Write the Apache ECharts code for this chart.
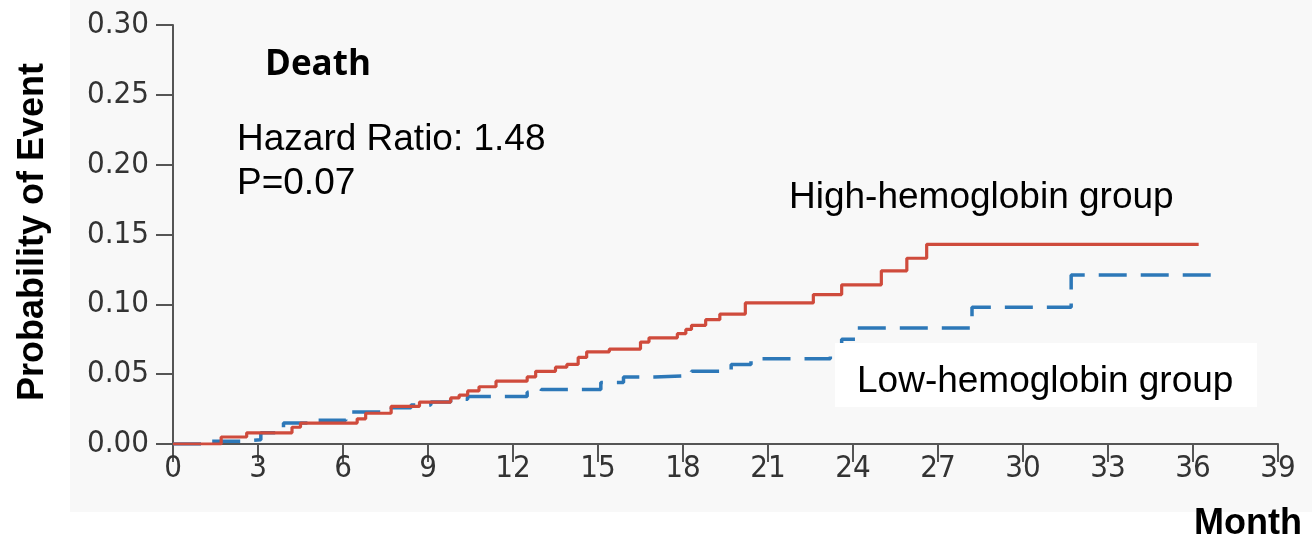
<!DOCTYPE html>
<html>
<head>
<meta charset="utf-8">
<script src="https://cdn.jsdelivr.net/npm/echarts@6/dist/echarts.min.js"></script>
<style>html,body{margin:0;padding:0;background:#fff}#c{width:1312px;height:542px}</style>
</head>
<body>
<div id="c"></div>
<script>
// months, cumulative probability of event (Kaplan-Meier style steps)
const highMonths = [0, 1.7, 2.6, 4.2, 4.5, 6.5, 6.8, 7.7, 8.7, 9.8, 10.1, 10.4, 10.8, 11.4, 12.5, 12.8, 13.5, 13.9, 14.3, 14.6, 15.4, 16.5, 16.8, 17.8, 18.1, 18.3, 18.8, 19.3, 20.2, 22.6, 23.6, 25.0, 25.9, 26.6, 36.2];
const highValues = [0, 0.005, 0.008, 0.012, 0.015, 0.018, 0.022, 0.027, 0.030, 0.033, 0.035, 0.038, 0.041, 0.045, 0.048, 0.052, 0.055, 0.057, 0.062, 0.066, 0.068, 0.073, 0.076, 0.079, 0.082, 0.085, 0.089, 0.093, 0.101, 0.107, 0.114, 0.124, 0.133, 0.143, 0.143];
const lowMonths = [0, 1.3, 2.4, 3.1, 3.9, 5.0, 6.1, 7.7, 8.4, 9.1, 9.8, 10.4, 12.5, 13.0, 15.1, 15.9, 17.0, 18.3, 19.7, 20.4, 23.2, 23.6, 24.1, 28.2, 31.7, 36.8];
const lowValues = [0, 0.002, 0.003, 0.008, 0.015, 0.017, 0.023, 0.026, 0.028, 0.030, 0.032, 0.034, 0.037, 0.039, 0.044, 0.048, 0.049, 0.052, 0.057, 0.061, 0.067, 0.075, 0.083, 0.098, 0.121, 0.121];
const xTicks = [0, 3, 6, 9, 12, 15, 18, 21, 24, 27, 30, 33, 36, 39];
const yTicks = [0, 0.05, 0.10, 0.15, 0.20, 0.25, 0.30];

const chart = echarts.init(document.getElementById('c'), null, {renderer: 'canvas'});
const tickFont = {fontFamily: 'DejaVu Sans Condensed', fontSize: 31, color: '#333'};
chart.setOption({
  animation: false,
  backgroundColor: '#ffffff',
  grid: {left: 173, right: 34, top: 25, bottom: 98, containLabel: false},
  xAxis: {
    type: 'value', min: xTicks[0], max: xTicks[xTicks.length - 1], interval: 3,
    axisLine: {lineStyle: {color: '#555', width: 2}},
    axisTick: {length: 18, lineStyle: {color: '#555', width: 2}},
    axisLabel: Object.assign({margin: 9}, tickFont),
    splitLine: {show: false}
  },
  yAxis: {
    type: 'value', min: yTicks[0], max: yTicks[yTicks.length - 1], interval: 0.05,
    axisLine: {show: true, lineStyle: {color: '#555', width: 2}},
    axisTick: {show: true, length: 17, lineStyle: {color: '#555', width: 2}},
    axisLabel: Object.assign({margin: 24, formatter: v => v.toFixed(2)}, tickFont),
    splitLine: {show: false}
  },
  graphic: [
    {type: 'rect', z: -10, silent: true, shape: {x: 70, y: 0, width: 1242, height: 512}, style: {fill: '#f8f8f8'}},
    {type: 'rect', z: 100, silent: true, shape: {x: 835, y: 343, width: 422, height: 64}, style: {fill: '#ffffff'}},
    {type: 'text', z: 101, left: 265, top: 48, style: {text: 'Death', font: 'bold 35px "Open Sans"', fill: '#000'}},
    {type: 'text', z: 101, left: 237, top: 121, style: {text: 'Hazard Ratio: 1.48', font: '37px "Liberation Sans"', fill: '#000'}},
    {type: 'text', z: 101, left: 237, top: 165, style: {text: 'P=0.07', font: '37px "Liberation Sans"', fill: '#000'}},
    {type: 'text', z: 101, left: 789, top: 179, style: {text: 'High-hemoglobin group', font: '37px "Liberation Sans"', fill: '#000'}},
    {type: 'text', z: 101, left: 857, top: 363, style: {text: 'Low-hemoglobin group', font: '37px "Liberation Sans"', fill: '#000'}},
    {type: 'text', z: 101, left: 1194, top: 506, style: {text: 'Month', font: 'bold 36px "Liberation Sans"', fill: '#000'}},
    {type: 'text', z: 101, x: 33, y: 232, rotation: Math.PI / 2, style: {text: 'Probability of Event', font: 'bold 36px "Liberation Sans"', fill: '#000', textAlign: 'center', textVerticalAlign: 'middle'}}
  ],
  series: [
    {
      name: 'Low-hemoglobin group', type: 'line', step: 'end', symbol: 'none', z: 3,
      data: lowMonths.map((m, i) => [m, lowValues[i]]),
      lineStyle: {color: '#2d78b8', width: 3.5, type: [28, 14]}
    },
    {
      name: 'High-hemoglobin group', type: 'line', step: 'end', symbol: 'none', z: 4,
      data: highMonths.map((m, i) => [m, highValues[i]]),
      lineStyle: {color: '#cf4b3c', width: 3.2}
    }
  ]
});
</script>
</body>
</html>
